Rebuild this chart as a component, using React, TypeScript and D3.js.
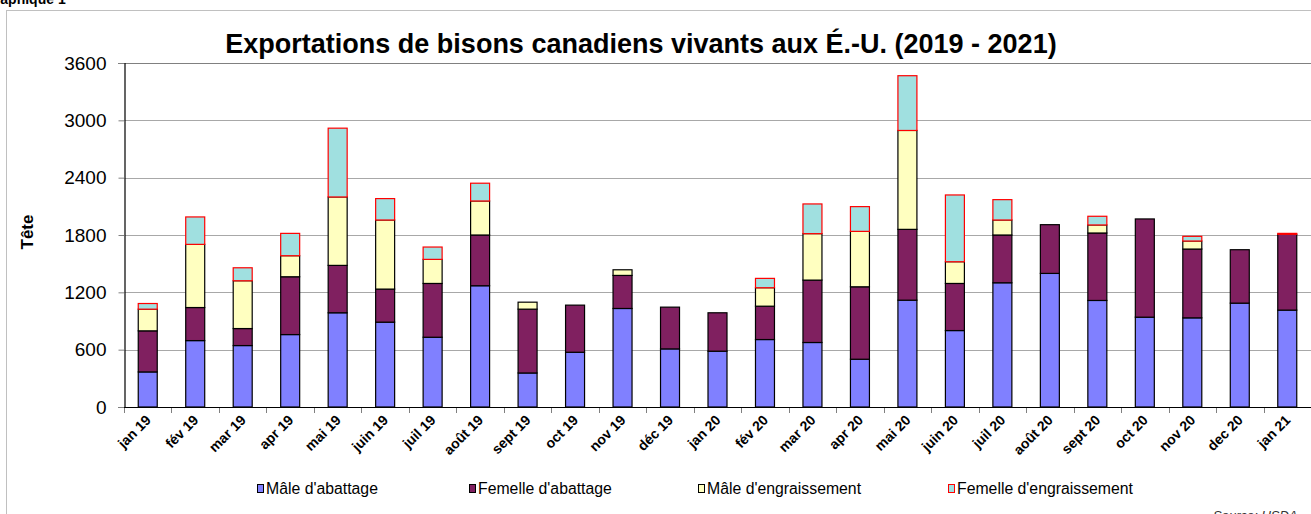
import React, { useEffect, useRef } from 'react';
import * as d3 from 'd3';

// mois (jan 2019 - jan 2021)
const months = [
  'jan 19', 'fév 19', 'mar 19', 'apr 19', 'mai 19', 'juin 19', 'juil 19', 'août 19',
  'sept 19', 'oct 19', 'nov 19', 'déc 19', 'jan 20', 'fév 20', 'mar 20', 'apr 20',
  'mai 20', 'juin 20', 'juil 20', 'août 20', 'sept 20', 'oct 20', 'nov 20', 'dec 20', 'jan 21',
];

// têtes par catégorie
const maleAbattage = [
  367, 695, 643, 758, 986, 888, 730, 1269, 356, 573, 1031, 608, 584, 706, 675, 500,
  1118, 800, 1300, 1398, 1115, 940, 933, 1087, 1014,
];
const femelleAbattage = [
  430, 346, 178, 605, 496, 346, 563, 531, 668, 493, 346, 437, 402, 349, 653, 758,
  741, 493, 500, 510, 706, 1028, 720, 559, 793,
];
const maleEngraissement = [
  227, 661, 500, 220, 716, 723, 252, 356, 73, 0, 59, 0, 0, 193, 486, 580,
  1035, 227, 157, 0, 84, 0, 84, 0, 0,
];
const femelleEngraissement = [
  59, 287, 136, 234, 720, 224, 129, 186, 0, 0, 0, 0, 0, 98, 311, 259,
  573, 699, 213, 0, 91, 0, 49, 0, 10,
];

const yTicks = [0, 600, 1200, 1800, 2400, 3000, 3600];

const series = [
  { key: 'ma', name: "Mâle d'abattage", values: maleAbattage, fill: '#8080FF', stroke: '#000' },
  { key: 'fa', name: "Femelle d'abattage", values: femelleAbattage, fill: '#802060', stroke: '#000' },
  { key: 'me', name: "Mâle d'engraissement", values: maleEngraissement, fill: '#FFFFC0', stroke: '#000' },
  { key: 'fe', name: "Femelle d'engraissement", values: femelleEngraissement, fill: '#A0E0E0', stroke: '#FF0000' },
];

const legendX = [257, 469, 698, 948];

const FONT = "'Liberation Sans', Arial, sans-serif";

const App = () => {
  const svgRef = useRef<SVGSVGElement>(null);

  useEffect(() => {
    const svg = d3.select(svgRef.current);
    svg.selectAll('*').remove();

    const width = 1311;
    const height = 514;
    const margin = { top: 63, right: 0, bottom: 107, left: 124 };

    // cadre
    svg.append('rect')
      .attr('x', 6.5).attr('y', 10.5)
      .attr('width', width + 10).attr('height', height + 10)
      .attr('fill', 'white')
      .attr('stroke', '#c0c0c0');

    svg.append('text')
      .attr('x', -16).attr('y', 4)
      .attr('font-family', FONT).attr('font-weight', 'bold').attr('font-size', 14)
      .text('Graphique 1');

    const table = months.map((m, i) => {
      const row: any = { month: m };
      series.forEach(s => { row[s.key] = s.values[i]; });
      return row;
    });

    const stack = d3.stack().keys(series.map(s => s.key));
    const stacked = stack(table);

    const x = d3.scaleBand()
      .domain(months)
      .range([margin.left, width - margin.right])
      .paddingInner(0.6)
      .paddingOuter(0.3);

    const y = d3.scaleLinear()
      .domain([0, 3600])
      .range([height - margin.bottom, margin.top]);

    // grille
    svg.append('g')
      .selectAll('line')
      .data(yTicks.slice(1))
      .enter()
      .append('line')
      .attr('x1', margin.left).attr('x2', width)
      .attr('y1', d => Math.round(y(d)) + 0.5).attr('y2', d => Math.round(y(d)) + 0.5)
      .attr('stroke', d => (d === 3600 ? '#808080' : '#a8a8a8'));

    // barres
    stacked.forEach((layer, li) => {
      const s = series[li];
      svg.append('g')
        .selectAll('rect')
        .data(layer)
        .enter()
        .filter(d => d[1] - d[0] > 0)
        .append('rect')
        .attr('x', (d: any) => x(d.data.month)!)
        .attr('y', d => y(d[1]))
        .attr('width', x.bandwidth())
        .attr('height', d => y(d[0]) - y(d[1]))
        .attr('fill', s.fill)
        .attr('stroke', s.stroke)
        .attr('stroke-width', 1.2);
    });

    // axe Y
    const yAxis = svg.append('g')
      .attr('transform', `translate(${margin.left + 0.5},0)`)
      .call(d3.axisLeft(y).tickValues(yTicks).tickSize(6).tickPadding(12).tickFormat(d3.format('d')));
    yAxis.select('.domain').attr('stroke', '#000').attr('stroke-width', 1.2);
    yAxis.selectAll('.tick line').attr('stroke', '#808080');
    yAxis.selectAll('text')
      .attr('font-family', FONT).attr('font-size', 19).attr('fill', '#000');

    // axe X
    const step = x.step();
    const bounds = d3.range(months.length + 1).map(i => margin.left + i * step);
    svg.append('g')
      .selectAll('line')
      .data(bounds)
      .enter()
      .append('line')
      .attr('x1', d => Math.round(d) + 0.5).attr('x2', d => Math.round(d) + 0.5)
      .attr('y1', height - margin.bottom).attr('y2', height - margin.bottom + 6)
      .attr('stroke', '#808080');

    svg.append('line')
      .attr('x1', margin.left).attr('x2', width)
      .attr('y1', height - margin.bottom + 0.5).attr('y2', height - margin.bottom + 0.5)
      .attr('stroke', '#000').attr('stroke-width', 1.2);

    svg.append('g')
      .selectAll('text')
      .data(months)
      .enter()
      .append('text')
      .attr('transform', d => `translate(${x(d)! + x.bandwidth() / 2 + 4},${height - margin.bottom + 14}) rotate(-45)`)
      .attr('text-anchor', 'end')
      .attr('font-family', FONT).attr('font-weight', 'bold').attr('font-size', 14)
      .text(d => d);

    // titres
    svg.append('text')
      .attr('x', 641).attr('y', 53)
      .attr('text-anchor', 'middle')
      .attr('font-family', FONT).attr('font-weight', 'bold').attr('font-size', 27)
      .text('Exportations de bisons canadiens vivants aux É.-U. (2019 - 2021)');

    svg.append('text')
      .attr('transform', 'translate(33,232) rotate(-90)')
      .attr('text-anchor', 'middle')
      .attr('font-family', FONT).attr('font-weight', 'bold').attr('font-size', 17)
      .text('Tête');

    // légende
    const legend = svg.append('g')
      .selectAll('g')
      .data(series)
      .enter()
      .append('g')
      .attr('transform', (d, i) => `translate(${legendX[i]},0)`);
    legend.append('rect')
      .attr('x', 0.5).attr('y', 484.5)
      .attr('width', 6).attr('height', 8)
      .attr('fill', d => d.fill)
      .attr('stroke', d => (d.key === 'fe' ? '#FF0000' : '#000'));
    legend.append('text')
      .attr('x', 9).attr('y', 494)
      .attr('font-family', FONT).attr('font-size', 15.8)
      .text(d => d.name);

    svg.append('text')
      .attr('x', 1213).attr('y', 520)
      .attr('font-family', FONT).attr('font-style', 'italic').attr('font-size', 13)
      .attr('fill', '#333')
      .text('Source: USDA');
  }, []);

  return (
    <svg ref={svgRef} width={1311} height={514}
      style={{ position: 'absolute', left: 0, top: 0, background: 'white' }}>
    </svg>
  );
};

export default App;
